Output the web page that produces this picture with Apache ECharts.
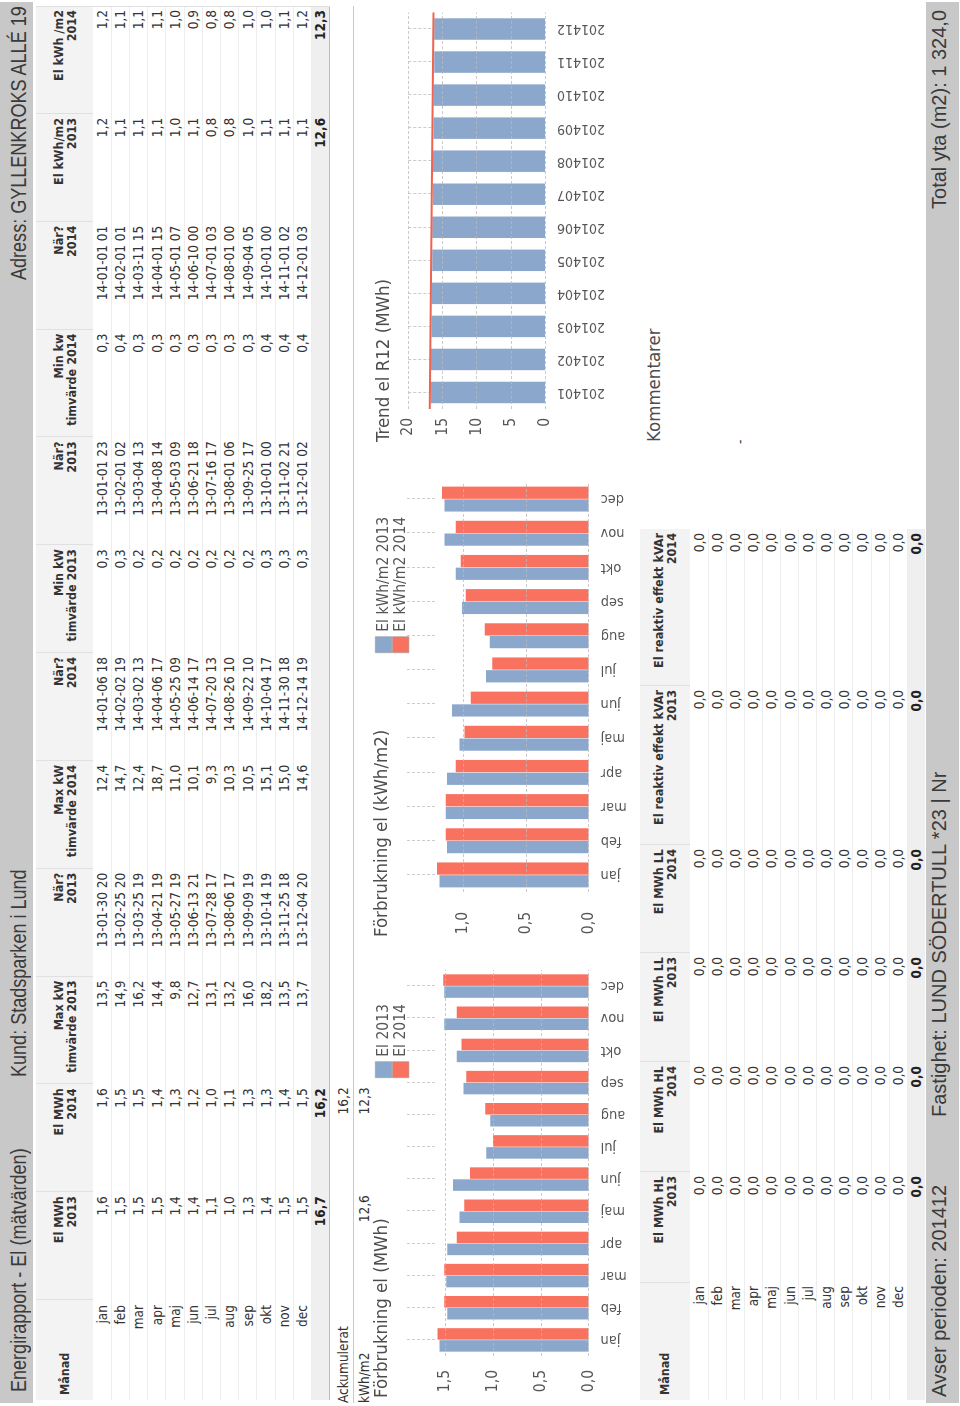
<!DOCTYPE html>
<html>
<head>
<meta charset="utf-8">
<script src="https://cdn.jsdelivr.net/npm/echarts@6.0.0/dist/echarts.min.js"></script>
<style>
html,body{margin:0;padding:0;background:#fff;}
body{width:960px;height:1406px;overflow:hidden;position:relative;}
#page{position:absolute;left:0;top:0;width:1406px;height:960px;transform-origin:0 0;transform:translate(0px,1406px) rotate(-90deg);font-family:"DejaVu Sans Condensed","DejaVu Sans",sans-serif;color:#333;background:#fff;overflow:hidden;}
.a{position:absolute;box-sizing:border-box;white-space:nowrap;}
</style>
</head>
<body>
<div id="page"></div>
<script>
// ---------------- DATA ----------------
const months = ['jan','feb','mar','apr','maj','jun','jul','aug','sep','okt','nov','dec'];

// bar heights
const elMWh2013 = [1.56,1.48,1.49,1.48,1.35,1.42,1.07,1.03,1.31,1.38,1.51,1.51];
const elMWh2014 = [1.58,1.51,1.51,1.38,1.30,1.24,1.00,1.08,1.28,1.33,1.38,1.52];
const kwhM2_2013 = [1.19,1.13,1.14,1.13,1.03,1.09,0.82,0.79,1.01,1.06,1.15,1.15];
const kwhM2_2014 = [1.21,1.14,1.14,1.06,0.99,0.94,0.77,0.83,0.98,1.02,1.06,1.17];
const r12Periods = ['201401','201402','201403','201404','201405','201406','201407','201408','201409','201410','201411','201412'];
const r12MWh = [16.7,16.7,16.6,16.6,16.5,16.5,16.4,16.4,16.3,16.3,16.2,16.2];
const r12Trend = [16.85,16.3];   // trend line value at start and end of the period

// table 1 values
const tblElMWh2013 = [1.6,1.5,1.5,1.5,1.4,1.4,1.1,1.0,1.3,1.4,1.5,1.5];
const tblElMWh2014 = [1.6,1.5,1.5,1.4,1.3,1.2,1.0,1.1,1.3,1.3,1.4,1.5];
const maxKW2013 = [13.5,14.9,16.2,14.4,9.8,12.7,13.1,13.2,16.0,18.2,13.5,13.7];
const maxWhen2013 = ['13-01-30 20','13-02-25 20','13-03-25 19','13-04-21 19','13-05-27 19','13-06-13 21','13-07-28 17','13-08-06 17','13-09-09 19','13-10-14 19','13-11-25 18','13-12-04 20'];
const maxKW2014 = [12.4,14.7,12.4,18.7,11.0,10.1,9.3,10.3,10.5,15.1,15.0,14.6];
const maxWhen2014 = ['14-01-06 18','14-02-02 19','14-03-02 13','14-04-06 17','14-05-25 09','14-06-14 17','14-07-20 13','14-08-26 10','14-09-22 10','14-10-04 17','14-11-30 18','14-12-14 19'];
const minKW2013 = [0.3,0.3,0.2,0.2,0.2,0.2,0.2,0.2,0.2,0.3,0.3,0.3];
const minWhen2013 = ['13-01-01 23','13-02-01 02','13-03-04 13','13-04-08 14','13-05-03 09','13-06-21 18','13-07-16 17','13-08-01 06','13-09-25 17','13-10-01 00','13-11-02 21','13-12-01 02'];
const minKW2014 = [0.3,0.4,0.3,0.3,0.3,0.3,0.3,0.3,0.3,0.4,0.4,0.4];
const minWhen2014 = ['14-01-01 01','14-02-01 01','14-03-11 15','14-04-01 15','14-05-01 07','14-06-10 00','14-07-01 03','14-08-01 00','14-09-04 05','14-10-01 00','14-11-01 02','14-12-01 03'];
const tblKwhM2_2013 = [1.2,1.1,1.1,1.1,1.0,1.1,0.8,0.8,1.0,1.1,1.1,1.1];
const tblKwhM2_2014 = [1.2,1.1,1.1,1.1,1.0,0.9,0.8,0.8,1.0,1.0,1.1,1.2];
const total1 = ['16,7','16,2','','','','','','','','','12,6','12,3'];
const headers1 = [['El MWh','2013'],['El MWh','2014'],['Max kW','timvärde 2013'],['När?','2013'],['Max kW','timvärde 2014'],['När?','2014'],['Min kW','timvärde 2013'],['När?','2013'],['Min kw','timvärde 2014'],['När?','2014'],['El kWh/m2','2013'],['El kWh /m2','2014']];
const ackMWh = ['','16,2'];
const ackKwhM2 = ['12,6','12,3'];

// table 2 values
const hl2013 = [0,0,0,0,0,0,0,0,0,0,0,0];
const hl2014 = [0,0,0,0,0,0,0,0,0,0,0,0];
const ll2013 = [0,0,0,0,0,0,0,0,0,0,0,0];
const ll2014 = [0,0,0,0,0,0,0,0,0,0,0,0];
const kvar2013 = [0,0,0,0,0,0,0,0,0,0,0,0];
const kvar2014 = [0,0,0,0,0,0,0,0,0,0,0,0];
const total2 = ['0,0','0,0','0,0','0,0','0,0','0,0'];
const headers2 = [['El MWh HL','2013'],['El MWh HL','2014'],['El MWh LL','2013'],['El MWh LL','2014'],['El reaktiv effekt kVAr','2013'],['El reaktiv effekt kVAr','2014']];

const headerTexts = ['Energirapport - El (mätvärden)','Kund: Stadsparken i Lund','Adress: GYLLENKROKS ALLÉ 19'];
const footerTexts = ['Avser perioden: 201412','Fastighet: LUND SÖDERTULL *23 | Nr','Total yta (m2): 1 324,0'];

// ---------------- LAYOUT HELPERS ----------------
const page = document.getElementById('page');
const fmt = v => (typeof v === 'number') ? v.toFixed(1).replace('.', ',') : v;
function box(style, text) {
  const d = document.createElement('div');
  d.className = 'a';
  for (const k in style) d.style[k] = (typeof style[k] === 'number') ? style[k] + 'px' : style[k];
  if (text !== undefined) d.textContent = text;
  page.appendChild(d);
  return d;
}

// header band
box({left:3, top:0, width:1401, height:33, background:'#c8c8c8'});
[14, 329, 1126].forEach((x, i) => box({left:x, top:8, fontFamily:'"Liberation Sans",Arial,sans-serif', fontSize:22, lineHeight:'22px', color:'#3a3a3a', transformOrigin:'0 0', transform:'scaleX(0.82)'}, headerTexts[i]));

// footer band
box({left:3, top:926, width:1401, height:33, background:'#c8c8c8'});
box({left:9, top:929, fontFamily:'"Liberation Sans",Arial,sans-serif', fontSize:20, lineHeight:'21px', color:'#3a3a3a'}, footerTexts[0]);
box({left:289, top:929, fontFamily:'"Liberation Sans",Arial,sans-serif', fontSize:20, lineHeight:'21px', color:'#3a3a3a'}, footerTexts[1]);
box({left:900, width:496, top:929, textAlign:'right', fontFamily:'"Liberation Sans",Arial,sans-serif', fontSize:20, lineHeight:'21px', color:'#3a3a3a'}, footerTexts[2]);

function makeTable(cfg) {
  const {top, edges, headH, rowH, totH, headers, cols, totals, monthPad} = cfg;
  const L = edges[0], R = edges[edges.length - 1];
  const bodyTop = top + headH;
  const totTop = bodyTop + 12 * rowH;
  box({left:L, top:top, width:R - L, height:headH, background:'#f3f3f3'});
  box({left:L, top:totTop, width:R - L, height:totH, background:'#efefef'});
  for (let i = 1; i <= 12; i++) box({left:L, top:bodyTop + i * rowH - 0.5, width:R - L, height:1, background:'#ededed'});
  for (let j = 1; j < edges.length - 1; j++) box({left:edges[j], top:top, width:1, height:headH, background:'#e0e0e0'});
  // Månad header
  box({left:L + 5, top:top, height:headH, lineHeight:headH + 'px', fontWeight:'bold', fontSize:12.5, color:'#333'}, 'Månad');
  // column headers
  headers.forEach((h, j) => {
    const d = box({left:edges[j + 1], top:top, width:edges[j + 2] - edges[j + 1], height:headH, paddingRight:4, display:'flex', flexDirection:'column', justifyContent:'center', alignItems:'flex-end', fontWeight:'bold', fontSize:12.5, lineHeight:'13px', color:'#333'});
    h.forEach(t => { const s = document.createElement('div'); s.textContent = t; d.appendChild(s); });
  });
  // months
  months.forEach((m, i) => box({left:L, width:edges[1] - L, top:bodyTop + i * rowH, height:rowH, lineHeight:rowH + 'px', textAlign:'right', paddingRight:monthPad, fontSize:13.5, color:'#333'}, m));
  // values
  cols.forEach((col, j) => {
    col.forEach((v, i) => box({left:edges[j + 1], width:edges[j + 2] - edges[j + 1], top:bodyTop + i * rowH, height:rowH, lineHeight:rowH + 'px', textAlign:'right', paddingRight:4, fontSize:13.5, color:'#333'}, fmt(v)));
    if (totals[j]) box({left:edges[j + 1], width:edges[j + 2] - edges[j + 1], top:totTop, height:totH, lineHeight:totH + 'px', textAlign:'right', paddingRight:4, fontSize:13.5, fontWeight:'bold', color:'#222'}, totals[j]);
  });
}

const edges1 = [6, 106];
for (let k = 1; k <= 12; k++) edges1.push(106 + k * 107.83);
makeTable({top:36, edges:edges1, headH:57, rowH:18.2, totH:18.3, headers:headers1,
  cols:[tblElMWh2013, tblElMWh2014, maxKW2013, maxWhen2013, maxKW2014, maxWhen2014, minKW2013, minWhen2013, minKW2014, minWhen2014, tblKwhM2_2013, tblKwhM2_2014],
  totals: total1, monthPad:5});
box({left:6, top:329, width:1394, height:1, background:'#bdbdbd'});
box({left:1399, top:36, width:1, height:294, background:'#e0e0e0'});

// Ackumulerat block
box({left:3, top:333, height:20, lineHeight:'20px', fontSize:13.5, color:'#333'}, 'Ackumulerat');
box({left:3, top:354, height:20, lineHeight:'20px', fontSize:13.5, color:'#333'}, 'kWh/m2');
ackMWh.forEach((t, j) => { if (t) box({left:edges1[j + 1], width:edges1[j + 2] - edges1[j + 1], top:333, height:20, lineHeight:'20px', textAlign:'right', paddingRight:3, fontSize:13.5, color:'#333'}, t); });
ackKwhM2.forEach((t, j) => { if (t) box({left:edges1[j + 1], width:edges1[j + 2] - edges1[j + 1], top:354, height:20, lineHeight:'20px', textAlign:'right', paddingRight:3, fontSize:13.5, color:'#333'}, t); });
box({left:3, top:353, width:1397, height:1, background:'#c8c8c8'});

// table 2
makeTable({top:640, edges:[6,123,234,344,453,561,720,877], headH:50, rowH:18.1, totH:18, headers:headers2,
  cols:[hl2013, hl2014, ll2013, ll2014, kvar2013, kvar2014], totals: total2, monthPad:3});

// Kommentarer
box({left:964, top:643, fontSize:18.5, lineHeight:'22px', color:'#4d4d4d'}, 'Kommentarer');
box({left:962, top:731, fontSize:13.5, lineHeight:'18px', color:'#333'}, '-');

// ---------------- CHARTS ----------------
const chartDiv = box({left:0, top:360, width:1406, height:280});
const chart = echarts.init(chartDiv, null, {renderer:'canvas'});
const EF = 'DejaVu Sans Condensed, DejaVu Sans, sans-serif';
const BLUE = '#8BA8CC', RED = '#F9715F';
const dash = [3, 2];
const commaFmt = v => v.toFixed(1).replace('.', ',');

const catBottom = (gi, data, fs) => ({type:'category', gridIndex:gi, position:'bottom', data:data,
  axisLine:{show:false}, axisTick:{show:false}, splitLine:{show:false},
  axisLabel:{interval:0, rotate:90, margin:12, fontSize:fs, color:'#555', fontFamily:EF}});
const catTop = (gi, data) => ({type:'category', gridIndex:gi, position:'top', data:data,
  axisLine:{show:false}, axisLabel:{show:false}, splitLine:{show:false},
  axisTick:{show:true, inside:true, alignWithLabel:true, interval:0, length:30, lineStyle:{color:'#cccccc', type:dash, width:1}}});
const valAxis = (gi, max, interval, margin, f, showMax) => ({type:'value', gridIndex:gi, min:0, max:max, interval:interval, z:3,
  axisLine:{show:false}, axisTick:{show:false},
  axisLabel:{margin:margin, fontSize:15.5, color:'#555', fontFamily:EF, formatter:f, showMaxLabel:showMax},
  splitLine:{show:true, showMaxLine:showMax, lineStyle:{color:'rgba(185,185,185,0.75)', type:dash, width:1}}});

const titleStyle = {fontSize:18.5, fontWeight:'normal', color:'#4d4d4d', fontFamily:EF};
const legendBase = {orient:'vertical', itemGap:0, itemWidth:16, itemHeight:16.5, icon:'rect', padding:0,
  itemStyle:{borderColor:'#9a9a9a', borderWidth:0.6},
  textStyle:{fontSize:15.5, color:'#555', fontFamily:EF, lineHeight:16.5}};

chart.setOption({
  animation:false,
  title:[
    {text:'Förbrukning el (MWh)', left:8, top:13, padding:0, textStyle:titleStyle},
    {text:'Förbrukning el (kWh/m2)', left:469, top:13, padding:0, textStyle:titleStyle},
    {text:'Trend el R12 (MWh)', left:964, top:15, padding:0, textStyle:titleStyle}
  ],
  legend:[
    Object.assign({}, legendBase, {data:['El 2013','El 2014'], left:328, top:15}),
    Object.assign({}, legendBase, {data:['El kWh/m2 2013','El kWh/m2 2014'], left:753, top:15})
  ],
  grid:[
    {left:50, top:47, width:386, height:181.6, outerBoundsMode:'none', containLabel:false},
    {left:514, top:47, width:410, height:181.6, outerBoundsMode:'none', containLabel:false},
    {left:997, top:48.3, width:396.5, height:136.7, outerBoundsMode:'none', containLabel:false}
  ],
  xAxis:[
    catBottom(0, months, 14.5), catTop(0, months),
    catBottom(1, months, 14.5), catTop(1, months),
    catBottom(2, r12Periods, 14), catTop(2, r12Periods),
    {type:'value', gridIndex:2, min:0, max:r12Trend.length - 1, show:false}
  ],
  yAxis:[
    valAxis(0, 1.9, 0.5, 14, commaFmt, false),
    valAxis(1, 1.45, 0.5, 20, commaFmt, false),
    valAxis(2, 20, 5, 9, v => String(v), true)
  ],
  series:[
    {name:'El 2013', type:'bar', xAxisIndex:0, yAxisIndex:0, data:elMWh2013, itemStyle:{color:BLUE}, barGap:'4%', barCategoryGap:'27%'},
    {name:'El 2014', type:'bar', xAxisIndex:0, yAxisIndex:0, data:elMWh2014, itemStyle:{color:RED}, barGap:'4%', barCategoryGap:'27%'},
    {name:'El kWh/m2 2013', type:'bar', xAxisIndex:2, yAxisIndex:1, data:kwhM2_2013, itemStyle:{color:BLUE}, barGap:'4%', barCategoryGap:'27%'},
    {name:'El kWh/m2 2014', type:'bar', xAxisIndex:2, yAxisIndex:1, data:kwhM2_2014, itemStyle:{color:RED}, barGap:'4%', barCategoryGap:'27%'},
    {name:'R12', type:'bar', xAxisIndex:4, yAxisIndex:2, data:r12MWh, itemStyle:{color:BLUE}, barCategoryGap:'35%'},
    {name:'Trend', type:'line', xAxisIndex:6, yAxisIndex:2, data:r12Trend.map((v, i) => [i, v]), symbol:'none', z:5,
      lineStyle:{color:'#EE6450', width:2}}
  ]
});
</script>
</body>
</html>
